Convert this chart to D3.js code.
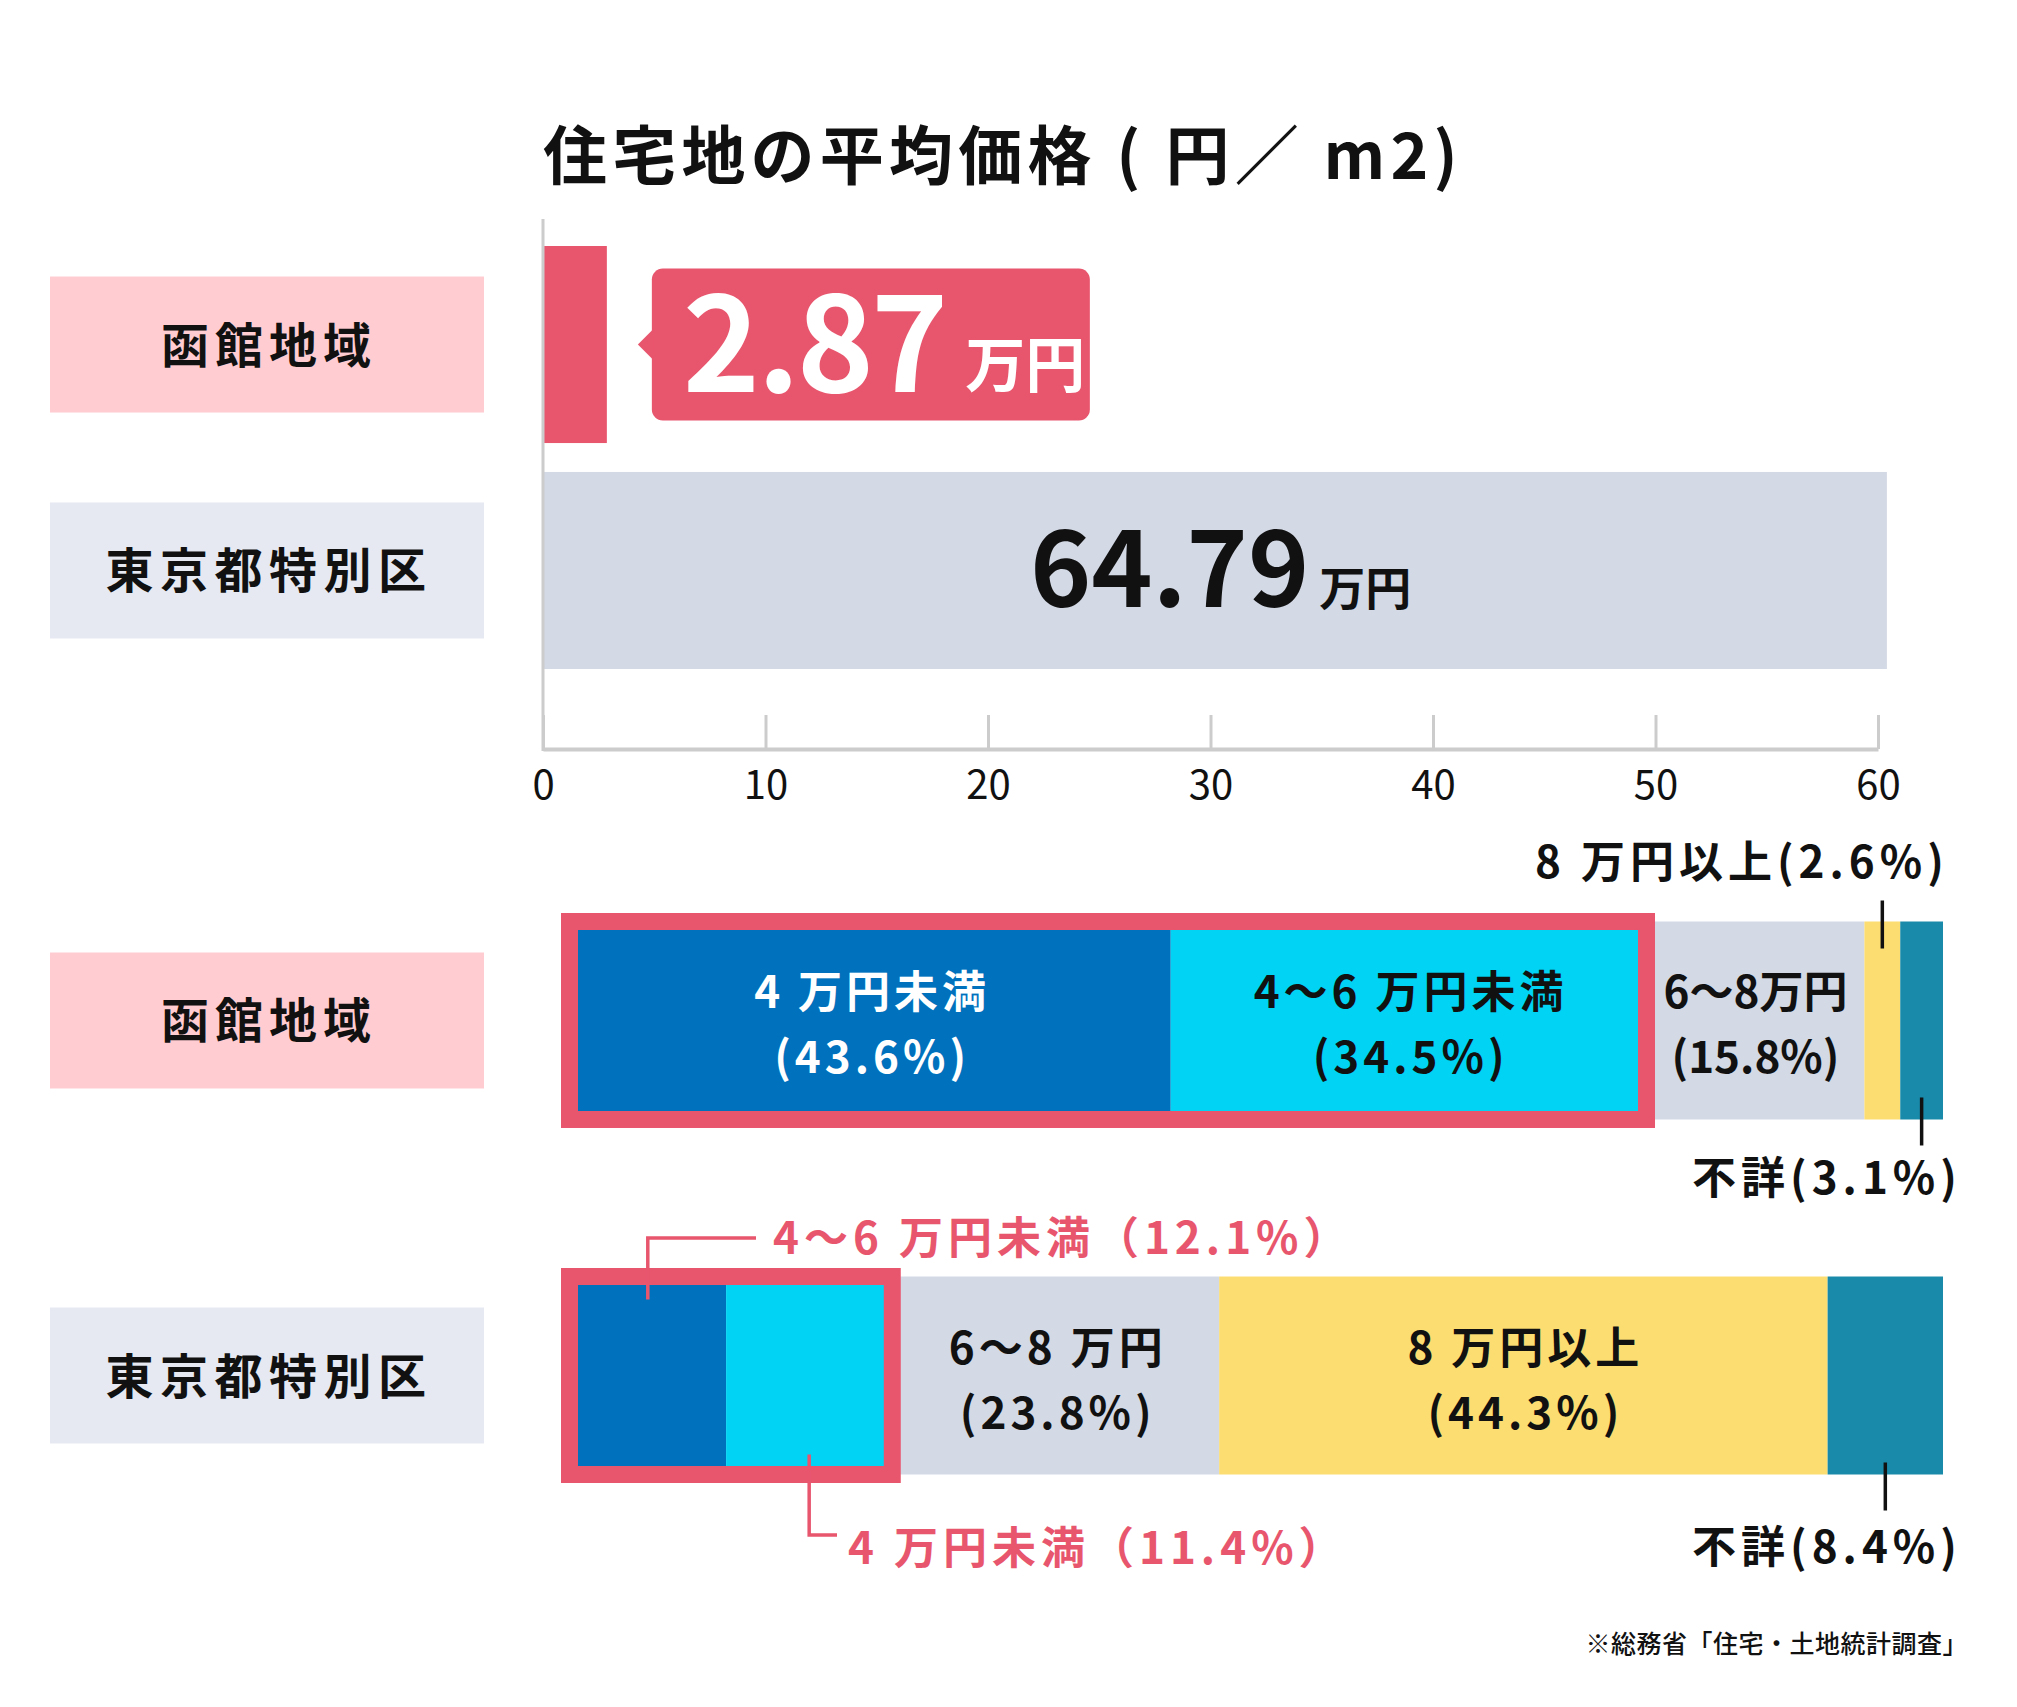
<!DOCTYPE html>
<html><head><meta charset="utf-8">
<script src="https://cdn.jsdelivr.net/npm/d3@7"></script>
<style>
html,body{margin:0;padding:0;background:#fff;}
svg{display:block;font-family:"Noto Sans CJK JP","Noto Sans",sans-serif;}
</style></head><body>
<svg id="chart" width="2017" height="1707"></svg>
<script>
// ---------- data ----------
const titleText = "住宅地の平均価格 ( 円／ m2)";
const regions = ["函館地域", "東京都特別区"];
const avgPrice = [2.87, 64.79];
const priceTicks = [0, 10, 20, 30, 40, 50, 60];
const priceUnit = "万円";
const bands = ["4万円未満", "4〜6万円未満", "6〜8万円", "8万円以上", "不詳"];
const hakodateShare = [43.6, 34.5, 15.8, 2.6, 3.1];
const tokyoShare = [11.4, 12.1, 23.8, 44.3, 8.4];
const hakodateLabels = ["4 万円未満", "4〜6 万円未満", "6〜8万円", "8 万円以上", "不詳"];
const tokyoLabels = ["4 万円未満", "4〜6 万円未満", "6〜8 万円", "8 万円以上", "不詳"];
const sourceNote = "※総務省「住宅・土地統計調査」";

// ---------- styles ----------
const PINK = "#e8566e";
const GRAYBAR = "#d3d9e5";
const boxFill = ["#ffccd2", "#e6e9f2"];
const bandColor = ["#0071bd", "#00d3f4", "#d3d9e5", "#fbdd72", "#1a8aaa"];
const FONT = '"Noto Sans CJK JP","Noto Sans",sans-serif';

const svg = d3.select("#chart");
const pct = v => `(${v.toFixed(1)}%)`;
const pctWide = v => `（${v.toFixed(1)}%）`;

// ---------- title ----------
svg.append("text").attr("x", 543).attr("y", 151)
  .attr("dominant-baseline", "central")
  .attr("font-size", 64).attr("font-weight", 700).attr("letter-spacing", 5.2)
  .attr("fill", "#111").text(titleText);

// ---------- top chart: average price ----------
const x = d3.scaleLinear().domain([0, 60]).range([543, 1878]);
const BAR_CAP = 60.4; // bar beyond the axis is truncated in the original
const y = d3.scaleBand().domain(regions).range([246, 669]).paddingInner(0.128).paddingOuter(0);

function labelBox(cy, i) {
  svg.append("rect").attr("x", 50).attr("y", cy - 68).attr("width", 434).attr("height", 136)
    .attr("fill", boxFill[i]);
  svg.append("text").attr("x", 269).attr("y", cy - 3).attr("text-anchor", "middle")
    .attr("dominant-baseline", "central").attr("font-size", 48).attr("font-weight", 700)
    .attr("letter-spacing", i === 0 ? 6 : 6.5).attr("fill", "#111").text(regions[i]);
}
regions.forEach((r, i) => labelBox(y(r) + y.bandwidth() / 2, i));

svg.selectAll("rect.pbar").data(avgPrice).join("rect").attr("class", "pbar")
  .attr("x", x(0)).attr("y", (d, i) => y(regions[i]))
  .attr("width", d => x(Math.min(d, BAR_CAP)) - x(0))
  .attr("height", y.bandwidth())
  .attr("fill", (d, i) => i === 0 ? PINK : GRAYBAR);

// axis
const axisG = svg.append("g").attr("transform", "translate(0,749)")
  .call(d3.axisBottom(x).tickValues(priceTicks).tickSize(-34).tickSizeOuter(0).tickFormat(d3.format("d")));
axisG.select(".domain").attr("stroke", "#cccccc").attr("stroke-width", 4);
axisG.selectAll(".tick line").attr("stroke", "#cccccc").attr("stroke-width", 3);
axisG.selectAll(".tick text").attr("y", 33).attr("dy", null)
  .attr("dominant-baseline", "central").attr("font-size", 40).attr("font-family", FONT)
  .attr("font-weight", 400).attr("fill", "#111");
svg.append("line").attr("x1", x(0)).attr("x2", x(0)).attr("y1", 219).attr("y2", 751)
  .attr("stroke", "#cccccc").attr("stroke-width", 3);

// Hakodate callout
{
  const cy = y(regions[0]) + y.bandwidth() / 2;
  const bx = x(avgPrice[0]) + 45, bw = 438, bh = 152;
  const g = svg.append("g");
  g.append("rect").attr("x", bx).attr("y", cy - bh / 2).attr("width", bw).attr("height", bh)
    .attr("rx", 11).attr("fill", PINK);
  g.append("path").attr("d", `M${bx + 2},${cy - 16} L${bx - 14},${cy} L${bx + 2},${cy + 16} Z`).attr("fill", PINK);
  const t = g.append("text").attr("x", bx + 31).attr("y", cy + 47).attr("fill", "#fff").attr("font-weight", 700);
  t.append("tspan").attr("font-size", 131).attr("letter-spacing", -3).text(avgPrice[0].toFixed(2));
  t.append("tspan").attr("font-size", 60).attr("dx", 20).attr("dy", -5).text(priceUnit);
}
// Tokyo value
{
  const cy = y(regions[1]) + y.bandwidth() / 2;
  const t = svg.append("text").attr("x", 1030).attr("y", cy + 37).attr("fill", "#111").attr("font-weight", 700);
  t.append("tspan").attr("font-size", 104).attr("letter-spacing", 0).text(avgPrice[1].toFixed(2));
  t.append("tspan").attr("font-size", 46).attr("dx", 10).attr("dy", -2).text(priceUnit);
}

// ---------- bottom chart: price bands share ----------
const yb = d3.scaleBand().domain(regions).range([921.5, 1474.5]).paddingInner(0.4423).paddingOuter(0);
const rows = [
  { shares: hakodateShare, labels: hakodateLabels },
  { shares: tokyoShare, labels: tokyoLabels }
];

rows.forEach((row, ri) => {
  const top = yb(regions[ri]), h = yb.bandwidth(), bot = top + h, cy = top + h / 2;
  labelBox(cy, ri);
  const xs = d3.scaleLinear().domain([0, d3.sum(row.shares)]).range([569.5, 1943]);
  const cum = d3.cumsum(row.shares);
  const segs = row.shares.map((v, i) => ({ v, i, band: bands[i], x0: xs(i ? cum[i - 1] : 0), x1: xs(cum[i]) }));
  svg.selectAll(null).data(segs).join("rect")
    .attr("x", d => d.x0).attr("y", top).attr("width", d => d.x1 - d.x0).attr("height", h)
    .attr("fill", d => bandColor[d.i]);
  // frame around the two lowest price bands
  svg.append("rect").attr("x", segs[0].x0).attr("y", top)
    .attr("width", segs[1].x1 - segs[0].x0).attr("height", h)
    .attr("fill", "none").attr("stroke", PINK).attr("stroke-width", 17);
  row.segs = segs; row.top = top; row.bot = bot; row.cy = cy;
});

function inside(row, i, color, ls) {
  const s = row.segs[i], cx = (s.x0 + s.x1) / 2 + ls / 2;
  [[row.labels[i], -31], [pct(s.v), 34]].forEach(([txt, off]) => {
    svg.append("text").attr("x", cx).attr("y", row.cy + off).attr("text-anchor", "middle")
      .attr("dominant-baseline", "central").attr("font-size", 44).attr("font-weight", 700)
      .attr("letter-spacing", ls).attr("fill", color).text(txt);
  });
}
function outsideText(x0, cy, txt, color, ls) {
  svg.append("text").attr("x", x0).attr("y", cy).attr("dominant-baseline", "central")
    .attr("font-size", 44).attr("font-weight", 700).attr("letter-spacing", ls)
    .attr("fill", color).text(txt);
}
function line(pts, color) {
  svg.append("path").attr("d", d3.line()(pts)).attr("fill", "none")
    .attr("stroke", color).attr("stroke-width", 3.5);
}

// Hakodate
{
  const r = rows[0];
  inside(r, 0, "#fff", 4);
  inside(r, 1, "#111", 4);
  inside(r, 2, "#111", 0);
  const s3 = r.segs[3], c3 = (s3.x0 + s3.x1) / 2;
  line([[c3, r.top - 21], [c3, r.top + 27]], "#111");
  outsideText(1535, 859, r.labels[3] + pct(s3.v), "#111", 5);
  const s4 = r.segs[4], c4 = (s4.x0 + s4.x1) / 2;
  line([[c4, r.bot - 22], [c4, r.bot + 26]], "#111");
  outsideText(1692, 1175, r.labels[4] + pct(s4.v), "#111", 5);
}
// Tokyo
{
  const r = rows[1];
  const s0 = r.segs[0], c0 = (s0.x0 + s0.x1) / 2;
  const s1 = r.segs[1], c1 = (s1.x0 + s1.x1) / 2;
  line([[c0, r.top + 23], [c0, 1238], [756, 1238]], PINK);
  outsideText(773, 1235, r.labels[1] + pctWide(s1.v), PINK, 5);
  line([[c1, r.bot - 20], [c1, 1535], [837, 1535]], PINK);
  outsideText(848, 1545, r.labels[0] + pctWide(s0.v), PINK, 5);
  inside(r, 2, "#111", 4);
  inside(r, 3, "#111", 4);
  const s4 = r.segs[4], c4 = (s4.x0 + s4.x1) / 2;
  line([[c4, r.bot - 12], [c4, r.bot + 36]], "#111");
  outsideText(1692, 1544, r.labels[4] + pct(s4.v), "#111", 5);
}

// source
svg.append("text").attr("x", 1968).attr("y", 1642).attr("text-anchor", "end")
  .attr("dominant-baseline", "central").attr("font-size", 25).attr("font-weight", 500)
  .attr("letter-spacing", 0.5).attr("fill", "#111").text(sourceNote);
</script>
</body></html>
